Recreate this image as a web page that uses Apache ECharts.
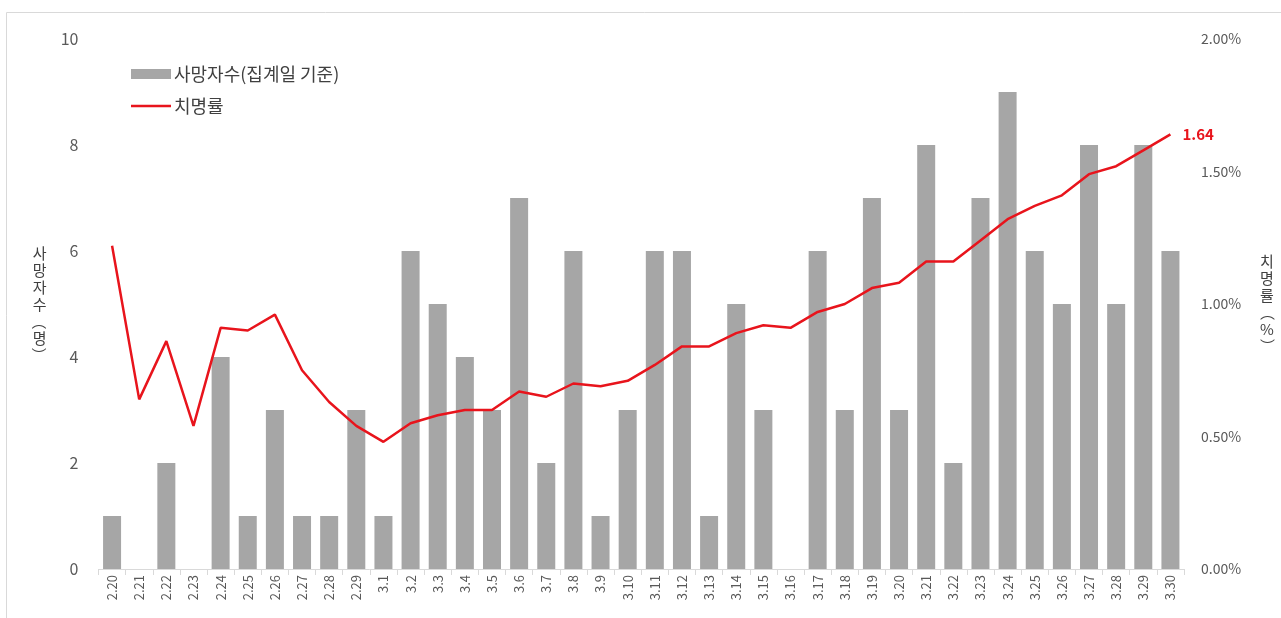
<!DOCTYPE html>
<html>
<head>
<meta charset="utf-8">
<script src="https://cdn.jsdelivr.net/npm/echarts@6/dist/echarts.min.js"></script>
<style>
html,body{margin:0;padding:0;background:#fff;}
#chart{width:1281px;height:618px;}
</style>
</head>
<body>
<div id="chart"></div>
<script>
const categories = ['2.20','2.21','2.22','2.23','2.24','2.25','2.26','2.27','2.28','2.29',
  '3.1','3.2','3.3','3.4','3.5','3.6','3.7','3.8','3.9','3.10',
  '3.11','3.12','3.13','3.14','3.15','3.16','3.17','3.18','3.19','3.20',
  '3.21','3.22','3.23','3.24','3.25','3.26','3.27','3.28','3.29','3.30'];
const deaths = [1,0,2,0,4,1,3,1,1,3,
  1,6,5,4,3,7,2,6,1,3,
  6,6,1,5,3,0,6,3,7,3,
  8,2,7,9,6,5,8,5,8,6];
const fatalityRate = [1.22,0.64,0.86,0.54,0.91,0.90,0.96,0.75,0.63,0.54,
  0.48,0.55,0.58,0.60,0.60,0.67,0.65,0.70,0.69,0.71,
  0.77,0.84,0.84,0.89,0.92,0.91,0.97,1.00,1.06,1.08,
  1.16,1.16,1.24,1.32,1.37,1.41,1.49,1.52,1.58,1.64];
const leftTicks = {min:0, max:10, interval:2};
const rightTicks = {min:0, max:2, interval:0.5};
const barName = '사망자수(집계일 기준)';
const lineName = '치명률';
const leftAxisName = '사\n망\n자\n수\n︵\n명\n︶';
const rightAxisName = '치\n명\n률\n︵\n%\n︶';

const chart = echarts.init(document.getElementById('chart'), null, {renderer:'canvas'});
const FONT = '"Noto Sans CJK KR", "Noto Sans", sans-serif';
chart.setOption({
  animation:false,
  textStyle:{fontFamily:FONT},
  graphic:[{type:'rect', shape:{x:6.5,y:12.5,width:1300,height:640}, style:{fill:'none', stroke:'#d9d9d9', lineWidth:1}, silent:true}],
  grid:{left:98.5, right:97, top:39, bottom:49, containLabel:false},
  legend:{
    orient:'vertical', left:126, top:60, itemGap:14, itemWidth:40, itemHeight:10,
    textStyle:{fontSize:18, color:'#404040', fontFamily:FONT, padding:[0,0,0,-2]},
    data:[{name:barName, icon:'rect'},
          {name:lineName, icon:'path://M0 0 L40 0 L40 2.5 L0 2.5 Z', itemStyle:{color:'#e8141c'}}]
  },
  xAxis:{
    type:'category', data:categories,
    axisLine:{lineStyle:{color:'#d9d9d9'}},
    axisTick:{show:true, length:6, interval:0, lineStyle:{color:'#d9d9d9'}},
    axisLabel:{rotate:90, interval:0, fontSize:13, color:'#595959', margin:6, fontFamily:FONT}
  },
  yAxis:[{
    type:'value', min:leftTicks.min, max:leftTicks.max, interval:leftTicks.interval,
    splitLine:{show:false}, axisLine:{show:false}, axisTick:{show:false},
    axisLabel:{fontSize:16, color:'#595959', margin:20, fontFamily:FONT},
    name:leftAxisName, nameLocation:'middle', nameRotate:0, nameGap:52,
    nameTextStyle:{fontSize:15, color:'#404040', lineHeight:17, fontFamily:FONT, padding:[12,0,0,0]}
  },{
    type:'value', min:rightTicks.min, max:rightTicks.max, interval:rightTicks.interval, position:'right',
    splitLine:{show:false}, axisLine:{show:false}, axisTick:{show:false},
    axisLabel:{fontSize:14, color:'#595959', margin:17, fontFamily:FONT, formatter:v=>v.toFixed(2)+'%'},
    name:rightAxisName, nameLocation:'middle', nameRotate:0, nameGap:76,
    nameTextStyle:{fontSize:15, color:'#404040', lineHeight:17, fontFamily:FONT, padding:[70,0,0,0]}
  }],
  series:[{
    name:barName, type:'bar', data:deaths, barWidth:18, yAxisIndex:0,
    itemStyle:{color:'#a6a6a6'}
  },{
    name:lineName, type:'line', data:fatalityRate, yAxisIndex:1, symbol:'none',
    lineStyle:{color:'#e8141c', width:2.5}, itemStyle:{color:'#e8141c'},
    endLabel:{show:true, distance:12, fontSize:15, fontWeight:'bold', color:'#e8141c', fontFamily:FONT,
      formatter:p=> Number(p.value).toFixed(2)}
  }]
});
</script>
</body>
</html>
